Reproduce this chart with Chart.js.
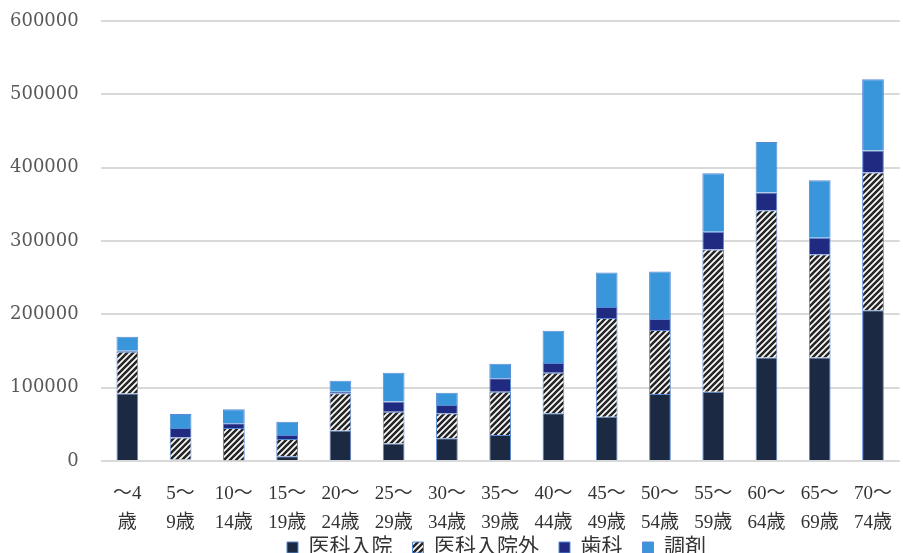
<!DOCTYPE html>
<html>
<head>
<meta charset="utf-8">
<script src="https://cdn.jsdelivr.net/npm/chart.js@4"></script>
<style>
  html, body { margin: 0; padding: 0; background: #fff; overflow: hidden; }
  #wrap { width: 903px; height: 599px; position: relative; }
</style>
</head>
<body>
<div id="wrap"><canvas id="myChart"></canvas></div>
<script>
// age groups (two-line labels as in the original)
const ageLabels = [
  ['～4', '歳'], ['5～', '9歳'], ['10～', '14歳'], ['15～', '19歳'], ['20～', '24歳'],
  ['25～', '29歳'], ['30～', '34歳'], ['35～', '39歳'], ['40～', '44歳'], ['45～', '49歳'],
  ['50～', '54歳'], ['55～', '59歳'], ['60～', '64歳'], ['65～', '69歳'], ['70～', '74歳']
];

const nyuin    = [92000, 2000, 1000, 6500, 41500, 24000, 31000, 35500, 65000, 60500, 91500, 94500, 141000, 141000, 205500];
const nyuinGai = [57000, 30000, 44000, 23500, 51000, 43000, 34000, 59000, 55500, 134500, 87000, 194000, 201000, 141000, 188000];
const shika    = [1500, 13000, 6500, 5500, 2000, 14000, 11500, 18500, 13000, 15000, 15000, 24000, 24000, 22500, 30000];
const chozai   = [19000, 19000, 19000, 18000, 15000, 39500, 16500, 19500, 44000, 47000, 65000, 80000, 69000, 78500, 97000];

const yTicks = [0, 100000, 200000, 300000, 400000, 500000, 600000];

// hatched fill for 医科入院外
function makeHatch() {
  const c = document.createElement('canvas');
  c.width = 6; c.height = 6;
  const g = c.getContext('2d');
  g.fillStyle = '#ffffff';
  g.fillRect(0, 0, 6, 6);
  g.strokeStyle = '#262626';
  g.lineWidth = 2.6;
  g.beginPath();
  g.moveTo(-1, 7); g.lineTo(7, -1);
  g.moveTo(-4, 4); g.lineTo(4, -4);
  g.moveTo(2, 10); g.lineTo(10, 2);
  g.stroke();
  return g.createPattern(c, 'repeat');
}
const hatch = makeHatch();

const serif = "'Liberation Serif', 'Noto Sans CJK JP', serif";

const ctx = document.getElementById('myChart');

const datasets = [
  { label: '医科入院', data: nyuin, backgroundColor: '#1b2a42' },
  { label: '医科入院外', data: nyuinGai, backgroundColor: hatch },
  { label: '歯科', data: shika, backgroundColor: '#1f2a80' },
  { label: '調剤', data: chozai, backgroundColor: '#3a96da' }
];
datasets.forEach(ds => {
  ds.borderColor = '#5a8ad6';
  ds.borderWidth = 1;
  ds.categoryPercentage = 0.8;
  ds.barPercentage = 0.51;
});

// the legend in the original sits right of centre and tucked under the labels
const legendShift = {
  id: 'legendShift',
  afterLayout(chart) {
    const lg = chart.legend;
    lg.left += 41; lg.right += 41;
    lg.top -= 31; lg.bottom -= 31;
  }
};

new Chart(ctx, {
  type: 'bar',
  data: { labels: ageLabels, datasets: datasets },
  plugins: [legendShift],
  options: {
    responsive: true,
    maintainAspectRatio: false,
    animation: false,
    layout: { padding: { top: 21, right: 0, left: 8, bottom: 0 } },
    plugins: {
      legend: {
        position: 'bottom',
        labels: {
          boxWidth: 11,
          boxHeight: 11,
          padding: 20,
          color: '#333',
          font: { family: serif, size: 21 }
        }
      },
      tooltip: { enabled: false }
    },
    scales: {
      x: {
        stacked: true,
        grid: { display: false },
        border: { display: false },
        ticks: {
          color: '#333',
          maxRotation: 0,
          autoSkip: false,
          padding: 11,
          font: { family: serif, size: 19, lineHeight: 1.5 }
        }
      },
      y: {
        stacked: true,
        min: 0,
        max: 600000,
        afterBuildTicks: axis => { axis.ticks = yTicks.map(v => ({ value: v })); },
        grid: { color: '#d9d9d9', lineWidth: 2, drawTicks: true, tickLength: 20, tickColor: 'rgba(0,0,0,0)' },
        border: { display: false },
        ticks: {
          color: '#595959',
          padding: 2,
          callback: v => String(v),
          font: { family: "'DejaVu Serif', serif", size: 18 }
        }
      }
    }
  }
});
</script>
</body>
</html>
